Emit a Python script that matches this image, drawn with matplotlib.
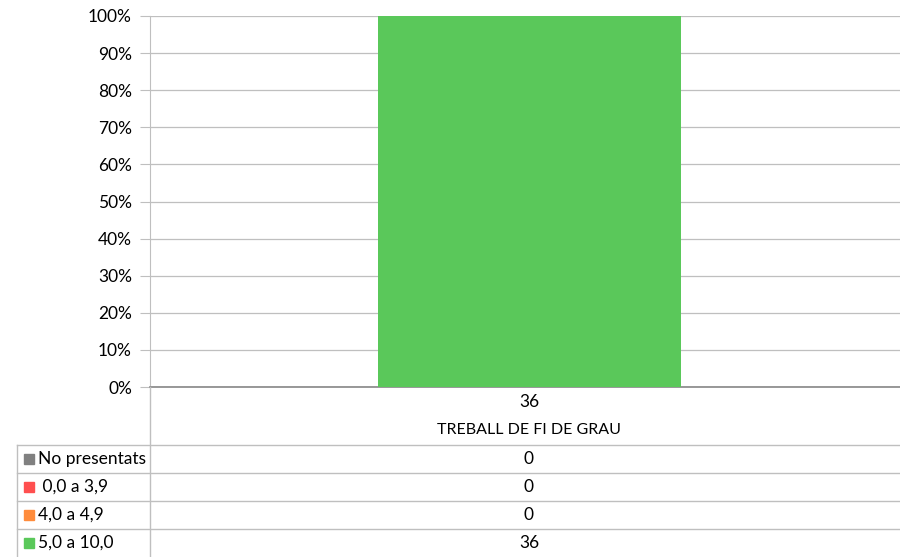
import matplotlib.pyplot as plt
from matplotlib.lines import Line2D
from matplotlib.ticker import FuncFormatter
import numpy as np

plt.rcParams['font.family'] = ['Lato', 'DejaVu Sans']

categories = ['TREBALL DE FI DE GRAU']
series_names = ['No presentats', ' 0,0 a 3,9', '4,0 a 4,9', '5,0 a 10,0']
series_values = [[0], [0], [0], [36]]
series_colors = ['#808080', '#ff4f4f', '#ff8c3c', '#5ac85a']

W, H = 900, 557
fig = plt.figure(figsize=(W / 100, H / 100), dpi=100)

# pixel helpers for figure coordinates
def fx(px):
    return px / W

def fy(py):
    return 1 - py / H

ax = fig.add_axes([fx(150), fy(387), fx(900) - fx(150), fy(16) - fy(387)])

values = np.array(series_values, dtype=float)
totals = values.sum(axis=0)
x = np.arange(len(categories))
bottom = np.zeros(len(categories))
for name, vals, color in zip(series_names, values, series_colors):
    share = vals / totals
    ax.bar(x, share, width=0.404, bottom=bottom, color=color, zorder=3)
    bottom += share

ax.set_xlim(-0.506, 0.494)
ax.set_ylim(0, 1)
ax.set_yticks(np.arange(0, 1.01, 0.1))
ax.yaxis.set_major_formatter(FuncFormatter(lambda v, pos: '{0:.0f}%'.format(v * 100)))
ax.tick_params(axis='y', labelsize=12.5, length=7, color='#bfbfbf', pad=6)
ax.set_xticks([])
ax.grid(axis='y', color='#bfbfbf', linewidth=0.9, zorder=0)
for side in ['top', 'right']:
    ax.spines[side].set_visible(False)
ax.spines['left'].set_color('#bfbfbf')
ax.spines['bottom'].set_color('#868686')
ax.spines['bottom'].set_linewidth(1.2)

# category header rows
fig.text(fx(529), fy(402), '{0:.0f}'.format(totals[0]), ha='center', va='center', fontsize=12.5)
fig.text(fx(529), fy(430), categories[0], ha='center', va='center', fontsize=11.5)

# data table below the chart
line_color = '#bfbfbf'
fig.add_artist(Line2D([fx(150), fx(150)], [fy(387), fy(557)], color=line_color, lw=1))
fig.add_artist(Line2D([fx(17), fx(17)], [fy(445), fy(557)], color=line_color, lw=1))
row_top = 445
row_h = 28
for i, (name, vals, color) in enumerate(zip(series_names, values, series_colors)):
    y0 = row_top + i * row_h
    fig.add_artist(Line2D([fx(17), fx(900)], [fy(y0), fy(y0)], color=line_color, lw=1))
    yc = y0 + row_h / 2
    fig.add_artist(plt.Rectangle((fx(24), fy(yc + 5)), fx(10), fy(yc - 5) - fy(yc + 5),
                                 color=color, transform=fig.transFigure))
    fig.text(fx(38), fy(yc), name, ha='left', va='center', fontsize=12.5)
    fig.text(fx(529), fy(yc), '{0:.0f}'.format(vals[0]), ha='center', va='center', fontsize=12.5)

plt.savefig('out.png', dpi=100)
plt.close()
